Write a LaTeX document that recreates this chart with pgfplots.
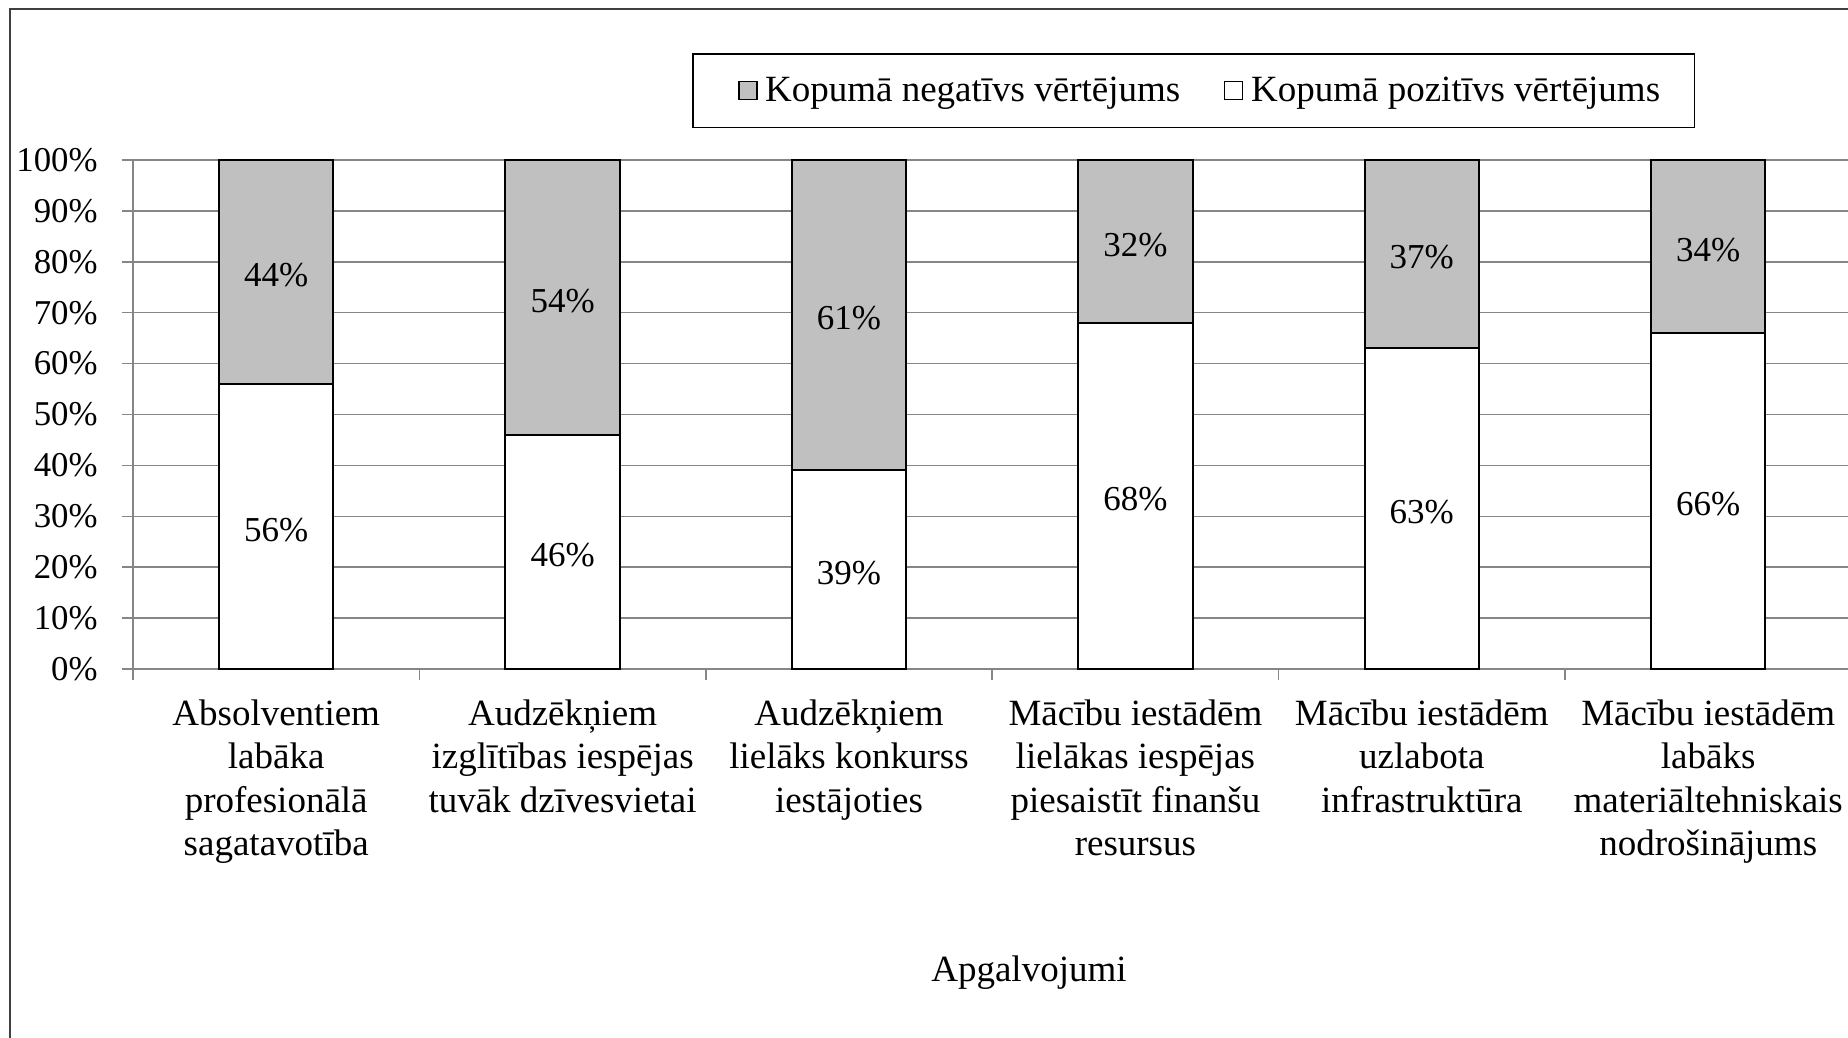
\documentclass[border=0pt]{standalone}
\usepackage{pgfplots}
\pgfplotsset{compat=1.18}
\usepackage{fontspec}
\setmainfont{Liberation Serif}
\definecolor{neg}{HTML}{C0C0C0}
\definecolor{gridc}{HTML}{868686}
\begin{document}
\begin{tikzpicture}[font=\fontsize{18.5pt}{21.8pt}\selectfont]
\useasboundingbox (0,0) rectangle (924pt,519pt);
\draw[line width=0.75pt, black!75] (5pt,-2pt) -- (5pt,514.5pt) -- (930pt,514.5pt);
\begin{axis}[
  at={(66.5pt,184.5pt)}, anchor=south west,
  scale only axis, width=859.2pt, height=254.5pt,
  ybar stacked, bar width=0.4,
  xmin=0.5, xmax=6.5, ymin=0, ymax=100,
  clip=false,
  axis line style={gridc, line width=0.75pt},
  xtick pos=lower, ytick pos=left,
  xtick={1,...,6},
  xticklabels={{Absolventiem\\labāka\\profesionālā\\sagatavotība},{Audzēkņiem\\izglītības iespējas\\tuvāk dzīvesvietai},{Audzēkņiem\\lielāks konkurss\\iestājoties},{Mācību iestādēm\\lielākas iespējas\\piesaistīt finanšu\\resursus},{Mācību iestādēm\\uzlabota\\infrastruktūra},{Mācību iestādēm\\labāks\\materiāltehniskais\\nodrošinājums}},
  xticklabel style={align=center, anchor=north, inner sep=0pt, yshift=-9.5pt},
  major x tick style={draw=none},
  minor xtick={0.5,1.5,...,5.5},
  minor x tick style={gridc, line width=0.75pt},
  tick align=outside,
  major tick length=5.5pt, minor tick length=5.5pt,
  ytick={0,10,...,100},
  yticklabel={\pgfmathprintnumber{\tick}\%},
  /pgf/number format/assume math mode=true,
  yticklabel style={anchor=east, inner sep=0pt, xshift=-12pt, font=\fontsize{17.4pt}{20pt}\selectfont},
  major y tick style={gridc, line width=0.75pt},
  ymajorgrids, major grid style={gridc, line width=0.75pt},
  xlabel={Apgalvojumi},
  xlabel style={at={(axis description cs:0.5214,-0.596)}, anchor=center, inner sep=0pt},
  visualization depends on={rawy \as \rawy},
  nodes near coords={\pgfmathprintnumber[fixed,precision=0]{\rawy}\%},
  nodes near coords align={center},
  every node near coord/.append style={anchor=center, yshift=-1.6pt, font=\fontsize{17.5pt}{20pt}\selectfont},
  legend columns=2, reverse legend,
  legend style={at={(axis description cs:0.6174,1.1365)}, anchor=center, draw=black, line width=0.75pt,
    inner xsep=15.3pt, inner ysep=9.5pt,
    /tikz/every even column/.append style={column sep=12.7pt}},
  legend image code/.code={\path (-7pt,0) (10.7pt,0); \draw[#1, line width=0.75pt] (0pt,-4.5pt) rectangle (9pt,4.5pt);},
]
\addplot[fill=white, draw=black, line width=1pt] coordinates {(1,56) (2,46) (3,39) (4,68) (5,63) (6,66)};
\addlegendentry{Kopumā pozitīvs vērtējums}
\addplot[fill=neg, draw=black, line width=1pt] coordinates {(1,44) (2,54) (3,61) (4,32) (5,37) (6,34)};
\addlegendentry{Kopumā negatīvs vērtējums}
\end{axis}
\end{tikzpicture}
\end{document}
